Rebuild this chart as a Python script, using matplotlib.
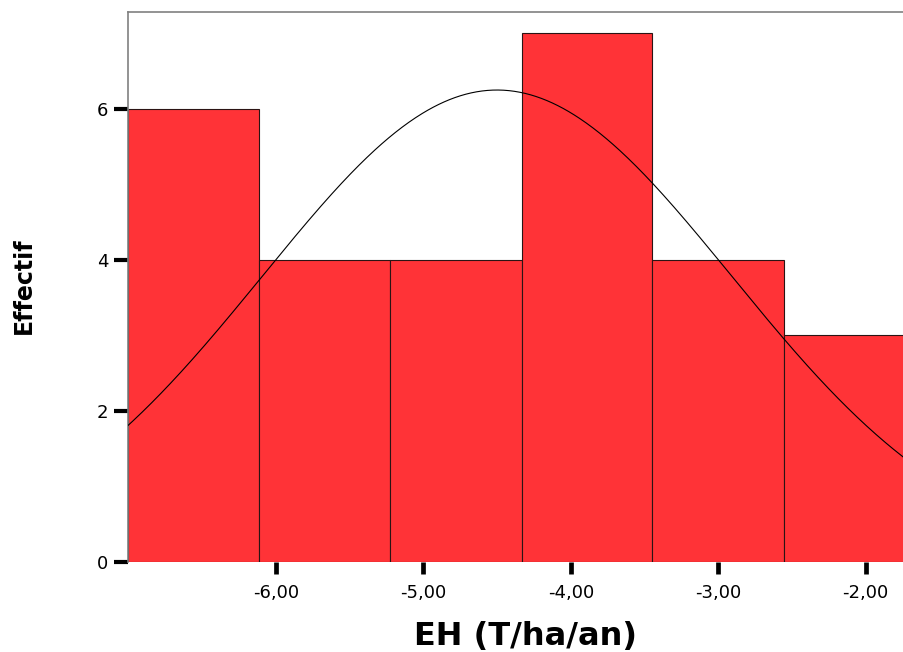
import numpy as np
import matplotlib
matplotlib.use('Agg')
import matplotlib.pyplot as plt

# histogram data
bin_edges = [-7.00, -6.115, -5.227, -4.33, -3.446, -2.556, -1.667]
counts = [6, 4, 4, 7, 4, 3]

# normal curve parameters
n_total = 28
mean_eh = -4.50
sd_eh = 1.59

x_ticks = [-6, -5, -4, -3, -2]
x_labels = ['-6,00', '-5,00', '-4,00', '-3,00', '-2,00']
y_ticks = [0, 2, 4, 6]
y_labels = ['0', '2', '4', '6']

fig = plt.figure(figsize=(9.04, 6.52), dpi=100)
ax = fig.add_axes([128 / 904, 89.7 / 652, 1 - 128 / 904, 550.6 / 652])

widths = np.diff(bin_edges)
ax.bar(bin_edges[:-1], counts, width=widths, align='edge',
       color='#ff3337', edgecolor='#2b1414', linewidth=0.8, zorder=2)

bw = np.mean(widths)
xs = np.linspace(-7.1, -1.6, 600)
ys = n_total * bw / (sd_eh * np.sqrt(2 * np.pi)) * np.exp(-(xs - mean_eh) ** 2 / (2 * sd_eh ** 2))
ax.plot(xs, ys, color='black', linewidth=0.8, zorder=3)

ax.set_xlim(-7.003, -1.74)
ax.set_ylim(0, 7.28)

ax.set_xticks(x_ticks)
ax.set_xticklabels(x_labels, fontsize=13, family='DejaVu Sans')
ax.set_yticks(y_ticks)
ax.set_yticklabels(y_labels, fontsize=13, family='DejaVu Sans')
ax.tick_params(axis='x', length=8.6, width=3.4, pad=7, direction='out')
ax.tick_params(axis='y', length=10, width=3.0, pad=4, direction='out')

for side in ['right', 'bottom']:
    ax.spines[side].set_visible(False)
for side in ['left', 'top']:
    ax.spines[side].set_color('#808080')
    ax.spines[side].set_linewidth(1.2)

fig.text(525.5 / 904, 0.024, 'EH (T/ha/an)', ha='center', va='center',
         fontsize=23, fontweight='bold', family='DejaVu Sans')
fig.text(23.5 / 904, (652 - 286) / 652, 'Effectif', ha='center', va='center',
         rotation=90, fontsize=17, fontweight='bold', family='DejaVu Sans')

fig.savefig('out.png', dpi=100)
